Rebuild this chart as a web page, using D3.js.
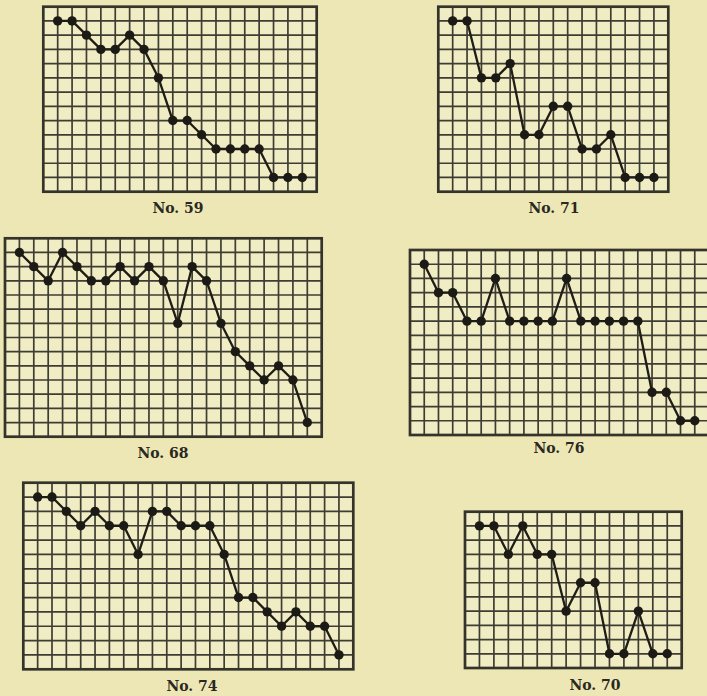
<!DOCTYPE html>
<html>
<head>
<meta charset="utf-8">
<script src="https://cdn.jsdelivr.net/npm/d3@7"></script>
<style>
  html, body { margin: 0; padding: 0; background: #ede7b6; }
  svg { display: block; }
</style>
</head>
<body>
<svg id="chart" width="707" height="696"></svg>
<script>
// chart labels, grid sizes (columns x rows) and readings (row index counted from top)
var labels = ['No. 59', 'No. 71', 'No. 68', 'No. 76', 'No. 74', 'No. 70'];
var gridCols = [19, 16, 22, 21, 23, 15];
var gridRows = [13, 13, 14, 13, 13, 11];

var no59 = [1, 1, 2, 3, 3, 2, 3, 5, 8, 8, 9, 10, 10, 10, 10, 12, 12, 12];
var no71 = [1, 1, 5, 5, 4, 9, 9, 7, 7, 10, 10, 9, 12, 12, 12];
var no68 = [1, 2, 3, 1, 2, 3, 3, 2, 3, 2, 3, 6, 2, 3, 6, 8, 9, 10, 9, 10, 13];
var no76 = [1, 3, 3, 5, 5, 2, 5, 5, 5, 5, 2, 5, 5, 5, 5, 5, 10, 10, 12, 12];
var no74 = [1, 1, 2, 3, 2, 3, 3, 5, 2, 2, 3, 3, 3, 5, 8, 8, 9, 10, 9, 10, 10, 12];
var no70 = [1, 1, 3, 1, 3, 3, 7, 5, 5, 10, 10, 7, 10, 10];

var series = [no59, no71, no68, no76, no74, no70];

// where each little chart sits on the page: [left, top, right, bottom], label centre / baseline
var frames = [
  [43.3, 6.7, 316.7, 191.7],
  [438.3, 6.7, 668.3, 191.7],
  [5, 238.3, 321.7, 436.7],
  [410, 250, 709, 435],
  [23.3, 482.7, 353.3, 669.3],
  [465, 511.7, 681.7, 668]
];
var labelPos = [[178, 213], [554, 213], [163, 458], [559, 453], [192, 691], [595, 690]];

var svg = d3.select('#chart');

svg.append('rect')
  .attr('width', 707).attr('height', 696)
  .attr('fill', '#ede7b6');

series.forEach(function(vals, k) {
  var f = frames[k];
  var x = d3.scaleLinear().domain([0, gridCols[k]]).range([f[0], f[2]]);
  var y = d3.scaleLinear().domain([0, gridRows[k]]).range([f[1], f[3]]);

  var g = svg.append('g').attr('class', 'panel');

  g.append('rect')
    .attr('x', f[0]).attr('y', f[1])
    .attr('width', f[2] - f[0]).attr('height', f[3] - f[1])
    .attr('fill', '#f0ecc3');

  // grid
  g.selectAll('line.v')
    .data(d3.range(1, gridCols[k]))
    .enter().append('line')
    .attr('class', 'v')
    .attr('x1', function(d) { return x(d); })
    .attr('x2', function(d) { return x(d); })
    .attr('y1', f[1]).attr('y2', f[3])
    .attr('stroke', '#3f3d33')
    .attr('stroke-width', 1.7);

  g.selectAll('line.h')
    .data(d3.range(1, gridRows[k]))
    .enter().append('line')
    .attr('class', 'h')
    .attr('y1', function(d) { return y(d); })
    .attr('y2', function(d) { return y(d); })
    .attr('x1', f[0]).attr('x2', f[2])
    .attr('stroke', '#3f3d33')
    .attr('stroke-width', 1.7);

  g.append('rect')
    .attr('x', f[0]).attr('y', f[1])
    .attr('width', f[2] - f[0]).attr('height', f[3] - f[1])
    .attr('fill', 'none')
    .attr('stroke', '#35342b')
    .attr('stroke-width', 2.7);

  // series
  var line = d3.line()
    .x(function(d, i) { return x(i + 1); })
    .y(function(d) { return y(d); });

  g.append('path')
    .datum(vals)
    .attr('d', line)
    .attr('fill', 'none')
    .attr('stroke', '#1f1d17')
    .attr('stroke-width', 2.3)
    .attr('stroke-linejoin', 'round');

  g.selectAll('circle')
    .data(vals)
    .enter().append('circle')
    .attr('cx', function(d, i) { return x(i + 1); })
    .attr('cy', function(d) { return y(d); })
    .attr('r', 4.7)
    .attr('fill', '#1c1a14');

  g.append('text')
    .attr('x', labelPos[k][0])
    .attr('y', labelPos[k][1])
    .attr('text-anchor', 'middle')
    .attr('font-family', '"DejaVu Serif", "Liberation Serif", serif')
    .attr('font-size', 14)
    .attr('font-weight', 'bold')
    .attr('fill', '#2a2820')
    .text(labels[k]);
});
</script>
</body>
</html>
